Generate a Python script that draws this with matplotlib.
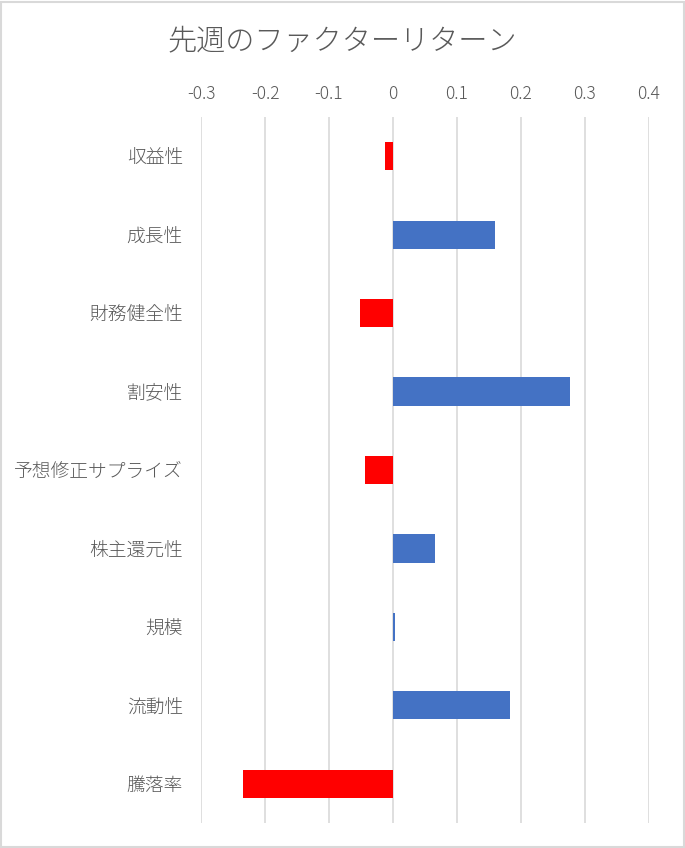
import numpy as np
import matplotlib.pyplot as plt
from matplotlib.patches import Rectangle

plt.rcParams['font.family'] = ['Noto Sans CJK JP', 'DejaVu Sans']
plt.rcParams['font.weight'] = 'light'

# factor returns of last week
factors = ['収益性', '成長性', '財務健全性', '割安性', '予想修正サプライズ',
           '株主還元性', '規模', '流動性', '騰落率']
returns = [-0.012, 0.159, -0.051, 0.277, -0.044, 0.065, 0.003, 0.183, -0.235]
xticks = [-0.3, -0.2, -0.1, 0, 0.1, 0.2, 0.3, 0.4]
xticklabels = ['-0.3', '-0.2', '-0.1', '0', '0.1', '0.2', '0.3', '0.4']

W, H = 685, 848
fig = plt.figure(figsize=(W / 100, H / 100), dpi=100)
ax = fig.add_axes([201 / W, 1 - 823 / H, 448 / W, 706 / H])

colors = ['#4472C4' if r >= 0 else '#FF0000' for r in returns]
y = np.arange(len(factors))
ax.barh(y, returns, height=0.36, color=colors, zorder=3)

ax.set_xlim(-0.3, 0.4)
ax.set_ylim(len(factors) - 0.5, -0.5)
ax.set_xticks(xticks)
ax.set_xticklabels(xticklabels)
ax.set_yticks(y)
ax.set_yticklabels(factors)
ax.xaxis.tick_top()
ax.tick_params(axis='x', length=0, pad=10, labelsize=12.5, colors='#595959')
ax.tick_params(axis='y', length=0, pad=13, labelsize=13.5, colors='#595959')
for s in ax.spines.values():
    s.set_visible(False)
ax.grid(axis='x', color='#D9D9D9', linewidth=1.2, zorder=0)

fig.text(0.5, 1 - 41 / H, '先週のファクターリターン', ha='center', va='center',
         fontsize=21, color='#595959')

# light grey chart border
fig.patches.append(Rectangle((0.001, 0.001), 0.997, 0.997, transform=fig.transFigure,
                             fill=False, edgecolor='#D9D9D9', linewidth=1.5))

fig.savefig('out.png', dpi=100)
